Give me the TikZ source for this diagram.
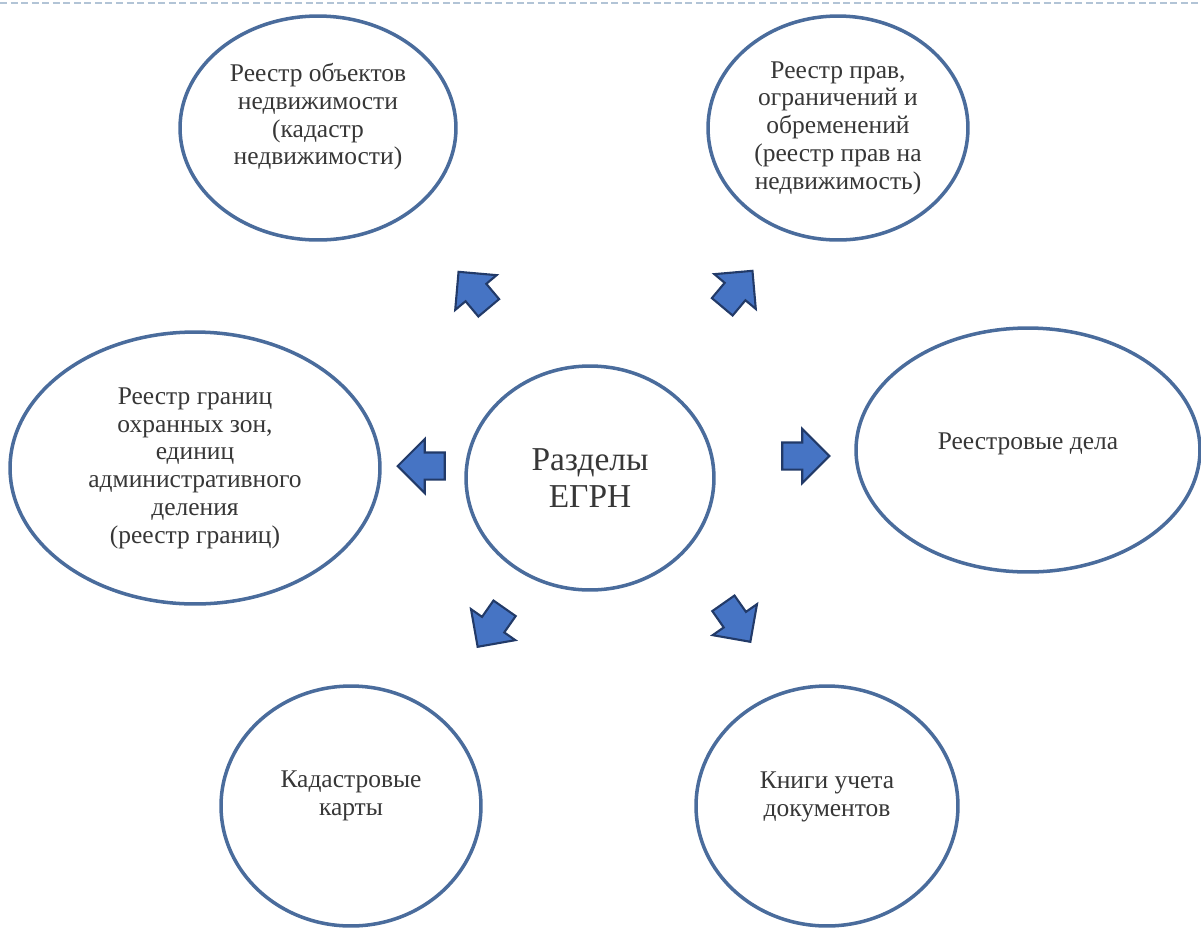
\documentclass[tikz,border=0pt]{standalone}
\usepackage{fontspec}
\setmainfont{Liberation Serif}
\usetikzlibrary{shapes.geometric, shapes.arrows}
\definecolor{ringblue}{RGB}{74, 108, 156}
\definecolor{arrowfill}{RGB}{70, 116, 196}
\definecolor{arrowedge}{RGB}{34, 58, 104}
\definecolor{topline}{RGB}{178, 196, 214}
\definecolor{labelgray}{RGB}{55, 55, 55}

\begin{document}
\begin{tikzpicture}[
    x=0.02cm, y=-0.02cm,
    part/.style={ellipse, draw=ringblue, line width=2pt, fill=white, inner sep=0pt, align=center, text=labelgray, font=\fontsize{14.5}{15.8}\selectfont},
    hub/.style={part, font=\fontsize{19}{21.5}\selectfont},
    raised/.style={text depth=#1},
    blockarrow/.style={single arrow, draw=arrowedge, fill=arrowfill, line width=1.2pt, single arrow head extend=0.27cm, single arrow tip angle=90, minimum height=0.94cm, inner xsep=0pt, inner ysep=0.25cm}
]
    \useasboundingbox (0,0) rectangle (1201,931);
    \draw[topline, line width=1pt, dash pattern=on 4pt off 2pt] (0,3) -- (1201,3);

    % Centre
    \node[hub, minimum width=4.96cm, minimum height=4.48cm] (egrn) at (590,478) {Разделы\\ЕГРН};

    % Upper row
    \node[part, raised=0.56cm, minimum width=5.52cm, minimum height=4.48cm] (objects) at (318,128) {Реестр объектов\\недвижимости\\(кадастр\\недвижимости)};
    \node[part, minimum width=5.2cm, minimum height=4.48cm] (rights) at (838,128) {Реестр прав,\\ограничений и\\обременений\\(реестр прав на\\недвижимость)};

    % Middle row
    \node[part, minimum width=7.4cm, minimum height=5.44cm] (borders) at (195,468) {Реестр границ\\охранных зон,\\единиц\\административного\\деления\\(реестр границ)};
    \node[part, raised=0.36cm, minimum width=6.88cm, minimum height=4.88cm] (cases) at (1028,450) {Реестровые дела};

    % Lower row
    \node[part, raised=0.52cm, minimum width=5.2cm, minimum height=4.8cm] (maps) at (351,806) {Кадастровые\\карты};
    \node[part, raised=0.48cm, minimum width=5.24cm, minimum height=4.8cm] (books) at (827,806) {Книги учета\\документов};

    % Block arrows
    \node[blockarrow, rotate=130] (toobjects) at (478,295) {};
    \node[blockarrow, rotate=50] (torights) at (733,294) {};
    \node[blockarrow, rotate=180] (toborders) at (428,466) {};
    \node[blockarrow] (tocases) at (799,456) {};
    \node[blockarrow, rotate=235] (tomaps) at (495,622) {};
    \node[blockarrow, rotate=305] (tobooks) at (733,617) {};
\end{tikzpicture}
\end{document}
